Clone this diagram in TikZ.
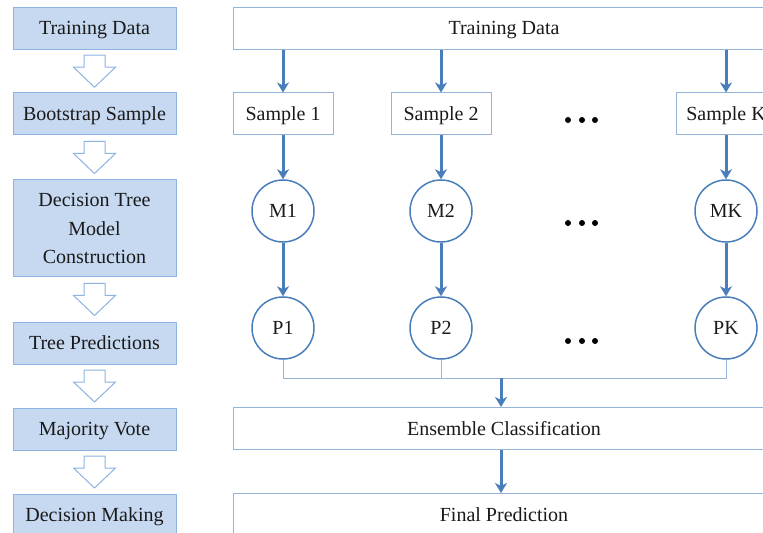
\documentclass[tikz,border=0pt]{standalone}
\usepackage{fontspec}
\setmainfont{Liberation Serif}
\usepackage{xcolor}
\definecolor{stageFill}{HTML}{C6D9F1}
\definecolor{stageEdge}{HTML}{8DB3E2}
\definecolor{flowBlue}{HTML}{4A7EBB}
\definecolor{boxEdge}{HTML}{95B3D7}
\definecolor{inkDark}{HTML}{1A1A1A}
\usepackage{tikz}
\usetikzlibrary{positioning,calc,arrows.meta}
\tikzset{%
  stageShape/.style={%
    rectangle,
    draw=stageEdge,
    fill=stageFill,
    line width=0.5pt,
    minimum width=81.5pt,
    minimum height=21pt,
    inner sep=0pt,
    align=center
  },
  stageBox/.style={%
    stageShape,
    text height=8pt,
    text depth=1.5pt
  },
  wideBox/.style={%
    rectangle,
    draw=boxEdge,
    fill=white,
    line width=0.5pt,
    minimum width=271pt,
    minimum height=21pt,
    inner sep=0pt,
    text height=8pt,
    text depth=1.5pt
  },
  sampleBox/.style={%
    rectangle,
    draw=boxEdge,
    fill=white,
    line width=0.5pt,
    minimum width=50pt,
    minimum height=21pt,
    inner sep=0pt,
    text height=8pt,
    text depth=1.5pt
  },
  modelCircle/.style={%
    circle,
    draw=flowBlue,
    line width=0.75pt,
    minimum size=31pt,
    inner sep=0pt
  },
  flowArrow/.style={%
    -{Stealth[length=5pt,width=6pt,inset=1.5pt]},
    line width=1.5pt,
    color=flowBlue
  },
  busLine/.style={%
    line width=0.5pt,
    color=boxEdge
  },
  hollowArrowLine/.style={%
    draw=stageEdge,
    fill=white,
    line width=0.5pt
  }
}
% open block arrow half way between two stage boxes
\newcommand{\stageStep}[2]{%
  \coordinate (mid) at ($(#1.south)!0.5!(#2.north)$);
  \draw[hollowArrowLine] (mid) ++(-10.5,-16) -- ++(21,0) -- ++(0,12) -- ++(10.5,0)
    -- ++(-21,20) -- ++(-21,-20) -- ++(10.5,0) -- cycle;
}

\begin{document}
\begin{tikzpicture}[x=0.5pt,y=-0.5pt,font=\fontsize{10}{14.25}\selectfont,text=inkDark]
  \clip (0,0) rectangle (763,533);

  % stages on the left
  \node[stageBox] (sTrain) at (94.5,28.5) {Training Data};
  \node[stageBox] (sBoot) at (94.5,114) {Bootstrap Sample};
  \node[stageShape, minimum height=48.5pt] (sBuild) at (94.5,228.5) {Decision Tree\\Model\\Construction};
  \node[stageBox] (sPredict) at (94.5,343) {Tree Predictions};
  \node[stageBox] (sVote) at (94.5,429) {Majority Vote};
  \node[stageBox] (sDecide) at (94.5,515) {Decision Making};

  \stageStep{sTrain}{sBoot}
  \stageStep{sBoot}{sBuild}
  \stageStep{sBuild}{sPredict}
  \stageStep{sPredict}{sVote}
  \stageStep{sVote}{sDecide}

  % forest on the right
  \node[wideBox] (trainData) at (504,28.5) {Training Data};
  \node[sampleBox] (sample1) at (283,114) {Sample 1};
  \node[sampleBox] (sample2) at (441,114) {Sample 2};
  \node[sampleBox] (sampleK) at (726,114) {Sample K};

  \node[modelCircle] (m1) at (283,211) {M1};
  \node[modelCircle] (m2) at (441,211) {M2};
  \node[modelCircle] (mK) at (726,211) {MK};

  \node[modelCircle] (p1) at (283,328) {P1};
  \node[modelCircle] (p2) at (441,328) {P2};
  \node[modelCircle] (pK) at (726,328) {PK};

  \node[wideBox] (ensemble) at (504,428.5) {Ensemble Classification};
  \node[wideBox] (final) at (504,514.5) {Final Prediction};

  \draw[flowArrow] (sample1 |- trainData.south) -- (sample1);
  \draw[flowArrow] (sample2 |- trainData.south) -- (sample2);
  \draw[flowArrow] (sampleK |- trainData.south) -- (sampleK);

  \draw[flowArrow] (sample1) -- (m1);
  \draw[flowArrow] (sample2) -- (m2);
  \draw[flowArrow] (sampleK) -- (mK);

  \draw[flowArrow] (m1) -- (p1);
  \draw[flowArrow] (m2) -- (p2);
  \draw[flowArrow] (mK) -- (pK);

  % collect the tree votes
  \coordinate (busL) at (283,378);
  \coordinate (busM) at (501,378);
  \draw[busLine] (p1.south) -- (busL) -| (pK.south);
  \draw[busLine] (p2.south) -- (p2.south |- busL);
  \draw[flowArrow] (busM) -- (busM |- ensemble.north);
  \draw[flowArrow] (ensemble.south -| busM) -- (final.north -| busM);

  % dots for the trees left out
  \foreach \y in {120,223,341}
    \foreach \x in {568,582,595}
      \fill[black] (\x,\y) circle (1.5pt);
\end{tikzpicture}
\end{document}
